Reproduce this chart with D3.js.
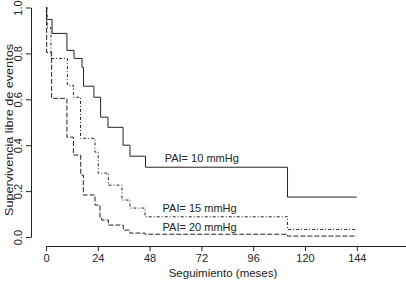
<!DOCTYPE html>
<html><head><meta charset="utf-8">
<script src="https://cdn.jsdelivr.net/npm/d3@7"></script>
<style>html,body{margin:0;padding:0;background:#fff;} svg{display:block;}</style>
</head><body>
<svg id="c" width="406" height="291"></svg>
<script>
// Data (months, survival)
const xTicks = [0, 24, 48, 72, 96, 120, 144];
const yTicks = [0, 0.2, 0.4, 0.6, 0.8, 1.0];
const yTickLabels = ["0.0", "0.2", "0.4", "0.6", "0.8", "1.0"];
const seriesNames = ["PAI= 10 mmHg", "PAI= 15 mmHg", "PAI= 20 mmHg"];
const t10 = [0, 0.2, 2.8, 9.7, 13.0, 16.7, 17.4, 22.2, 25.3, 28.7, 35.7, 38.9, 46.1, 111.9, 144];
const s10 = [1.0, 0.948, 0.887, 0.813, 0.778, 0.739, 0.657, 0.609, 0.522, 0.478, 0.400, 0.352, 0.304, 0.174, 0.174];
const t15 = [0, 0.5, 2.3, 9.9, 12.7, 16.0, 22.7, 24.2, 28.9, 35.2, 38.9, 45.9, 111.9, 144];
const s15 = [1.0, 0.913, 0.778, 0.661, 0.609, 0.430, 0.370, 0.278, 0.226, 0.161, 0.126, 0.088, 0.033, 0.033];
const t20 = [0, 0.3, 2.6, 9.7, 12.7, 16.1, 17.3, 22.7, 25.0, 25.8, 28.9, 35.8, 38.9, 45.9, 111.9, 144];
const s20 = [1.0, 0.804, 0.604, 0.435, 0.357, 0.270, 0.183, 0.139, 0.083, 0.074, 0.052, 0.030, 0.017, 0.012, 0.004, 0.004];
const labelPos = [[55, 0.325], [54, 0.11], [54, 0.025]]; // [month, survival] where label text starts

const svg = d3.select("#c");
const x = d3.scaleLinear().domain([0, 168]).range([46, 408.6]);
const y = d3.scaleLinear().domain([0, 1]).range([237, 7.5]);
const ink = "#222";
const font = "'Liberation Sans', Arial, sans-serif";

// X axis
const gx = svg.append("g").attr("transform", "translate(0,246)")
  .call(d3.axisBottom(x).tickValues(xTicks).tickSize(5).tickPadding(3).tickSizeOuter(0));
gx.select(".domain").attr("d", `M${x(0)},0.5H406`);
// Y axis
const gy = svg.append("g").attr("transform", "translate(31,0)")
  .call(d3.axisLeft(y).tickValues(yTicks).tickFormat((d, i) => yTickLabels[i]).tickSize(5).tickSizeOuter(0));
[gx, gy].forEach(g => {
  g.selectAll("path,line").attr("stroke", ink);
  g.selectAll("text").attr("fill", ink).attr("font-family", font).attr("font-size", 11);
});
gy.selectAll(".tick text").attr("text-anchor", "middle").attr("x", 0).attr("dy", 0)
  .attr("transform", "translate(-9,0) rotate(-90)");

// Axis titles
svg.append("text").attr("x", 223).attr("y", 277).attr("text-anchor", "middle")
  .attr("font-family", font).attr("font-size", 11.5).attr("fill", ink).text("Seguimiento (meses)");
svg.append("text").attr("transform", "translate(13,130) rotate(-90)").attr("text-anchor", "middle")
  .attr("font-family", font).attr("font-size", 11.5).attr("fill", ink)
  .attr("textLength", 172).attr("lengthAdjust", "spacingAndGlyphs")
  .text("Supervivencia libre de eventos");

// Curves
const line = d3.line().x(d => x(d[0])).y(d => y(d[1])).curve(d3.curveStepAfter);
const curves = [
  {t: t10, s: s10, dash: null},
  {t: t15, s: s15, dash: "3,2,1,2"},
  {t: t20, s: s20, dash: "5,2"}
];
curves.forEach(c => {
  svg.append("path").datum(c.t.map((t, i) => [t, c.s[i]]))
    .attr("d", line).attr("fill", "none").attr("stroke", "#222").attr("stroke-width", 1)
    .attr("stroke-dasharray", c.dash);
});

// Labels
seriesNames.forEach((n, i) => {
  svg.append("text").attr("x", x(labelPos[i][0])).attr("y", y(labelPos[i][1]))
    .attr("font-family", font).attr("font-size", 11).attr("fill", ink).text(n);
});
</script>
</body></html>
